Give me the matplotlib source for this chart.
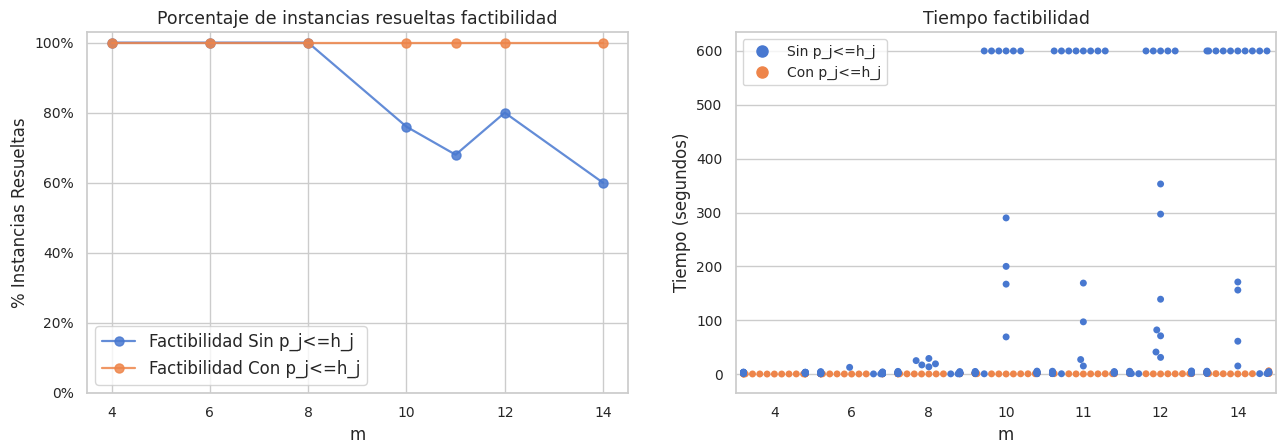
import numpy as np
import pandas as pd
import matplotlib
matplotlib.use("Agg")
import matplotlib.pyplot as plt
from matplotlib.lines import Line2D
from matplotlib.ticker import PercentFormatter
import seaborn as sns
import warnings

warnings.filterwarnings("ignore")

sns.set_theme(style="whitegrid", palette="muted")
plt.rcParams['font.family'] = ['DejaVu Sans']

# porcentaje de instancias resueltas por m
m_vals = [4, 6, 8, 10, 11, 12, 14]
pct_sin = [100, 100, 100, 76, 68, 80, 60]
pct_con = [100, 100, 100, 100, 100, 100, 100]

# tiempos (segundos) de cada instancia, 600 = timeout
t_sin_4 = [1.2, 1.3, 1.4, 1.5, 1.6, 1.7, 1.8, 1.9, 2.0, 2.1, 2.2, 2.3, 2.4,
           2.5, 2.6, 2.7, 2.8, 2.9, 3.0, 3.1, 3.2, 3.3, 3.4, 3.5, 3.6]
t_sin_6 = [0.3, 0.4, 0.5, 0.6, 0.7, 0.8, 0.9, 1.0, 1.1, 1.2, 1.4, 1.5, 1.7,
           1.9, 2.0, 2.2, 2.4, 2.6, 2.9, 3.1, 3.4, 3.8, 4.0, 4.5, 12.5]
t_sin_8 = [0.4, 0.5, 0.6, 0.8, 0.9, 1.0, 1.2, 1.3, 1.5, 1.7, 1.9, 2.1, 2.4,
           2.7, 3.0, 3.3, 3.7, 4.1, 4.6, 5.0, 13.5, 17.0, 19.0, 25.0, 29.0]
t_sin_10 = [0.5, 0.7, 0.9, 1.1, 1.3, 1.6, 1.9, 2.2, 2.6, 3.0, 3.4, 3.9, 4.4,
            4.9, 5.5, 69.0, 167.0, 200.0, 290.0,
            600, 600, 600, 600, 600, 600]
t_sin_11 = [0.6, 0.8, 1.0, 1.3, 1.6, 1.9, 2.3, 2.7, 3.1, 3.6, 4.1, 4.7, 5.3,
            15.0, 27.0, 97.0, 169.0,
            600, 600, 600, 600, 600, 600, 600, 600]
t_sin_12 = [0.7, 0.9, 1.2, 1.5, 1.8, 2.2, 2.6, 3.0, 3.5, 4.0, 4.6, 5.2, 5.8,
            31.0, 41.0, 71.0, 82.0, 139.0, 297.0, 353.0,
            600, 600, 600, 600, 600]
t_sin_14 = [0.8, 1.0, 1.3, 1.7, 2.1, 2.5, 3.0, 3.5, 4.1, 4.7, 5.4,
            15.0, 61.0, 156.0, 171.0,
            600, 600, 600, 600, 600, 600, 600, 600, 600, 600]

t_con_4 = [0.1, 0.1, 0.1, 0.2, 0.2, 0.2, 0.3, 0.3, 0.3, 0.4, 0.4, 0.4, 0.5,
           0.5, 0.5, 0.6, 0.6, 0.6, 0.7, 0.7, 0.8, 0.8, 0.9, 0.9, 1.0]
t_con_6 = [0.1, 0.2, 0.2, 0.3, 0.3, 0.3, 0.4, 0.4, 0.5, 0.5, 0.6, 0.6, 0.7,
           0.7, 0.8, 0.8, 0.9, 1.0, 1.0, 1.1, 1.2, 1.3, 1.4, 1.5, 1.7]
t_con_8 = [0.2, 0.2, 0.3, 0.3, 0.4, 0.4, 0.5, 0.5, 0.6, 0.6, 0.7, 0.8, 0.8,
           0.9, 1.0, 1.0, 1.1, 1.2, 1.3, 1.4, 1.5, 1.6, 1.8, 2.0, 2.2]
t_con_10 = [0.2, 0.3, 0.3, 0.4, 0.5, 0.5, 0.6, 0.7, 0.7, 0.8, 0.9, 1.0, 1.1,
            1.2, 1.3, 1.4, 1.5, 1.6, 1.8, 1.9, 2.1, 2.3, 2.5, 2.7, 3.0]
t_con_11 = [0.2, 0.3, 0.4, 0.4, 0.5, 0.6, 0.7, 0.8, 0.8, 0.9, 1.0, 1.1, 1.2,
            1.3, 1.5, 1.6, 1.7, 1.9, 2.0, 2.2, 2.4, 2.6, 2.9, 3.2, 3.5]
t_con_12 = [0.3, 0.4, 0.5, 0.5, 0.6, 0.7, 0.8, 0.9, 1.0, 1.1, 1.2, 1.3, 1.5,
            1.6, 1.8, 1.9, 2.1, 2.3, 2.5, 2.7, 3.0, 3.3, 3.6, 4.0, 4.4]
t_con_14 = [0.3, 0.4, 0.5, 0.6, 0.7, 0.8, 0.9, 1.0, 1.2, 1.3, 1.5, 1.6, 1.8,
            2.0, 2.2, 2.4, 2.7, 3.0, 3.3, 3.6, 4.0, 4.4, 4.8, 5.3, 6.0]

t_sin = [t_sin_4, t_sin_6, t_sin_8, t_sin_10, t_sin_11, t_sin_12, t_sin_14]
t_con = [t_con_4, t_con_6, t_con_8, t_con_10, t_con_11, t_con_12, t_con_14]

rows = []
for m, tc in zip(m_vals, t_con):
    rows += [(m, v, "Con p_j<=h_j") for v in tc]
for m, ts in zip(m_vals, t_sin):
    rows += [(m, v, "Sin p_j<=h_j") for v in ts]
df = pd.DataFrame(rows, columns=["m", "tiempo", "tipo"])

colors = sns.color_palette("muted")
azul, naranja = colors[0], colors[1]

fig, (ax1, ax2) = plt.subplots(1, 2, figsize=(12.79, 4.46), dpi=100)
fig.subplots_adjust(left=0.068, right=0.998, wspace=0.2, top=0.928, bottom=0.119)

# porcentaje resuelto
ax1.plot(m_vals, pct_sin, 'o-', color=azul, alpha=0.85, lw=1.6, markersize=6.5,
         label="Factibilidad Sin p_j<=h_j")
ax1.plot(m_vals, pct_con, 'o-', color=naranja, alpha=0.85, lw=1.6, markersize=6.5,
         label="Factibilidad Con p_j<=h_j")
ax1.set_ylim(0, 103)
ax1.set_xlim(3.5, 14.5)
ax1.set_yticks([0, 20, 40, 60, 80, 100])
ax1.yaxis.set_major_formatter(PercentFormatter(decimals=0))
ax1.set_xticks([4, 6, 8, 10, 12, 14])
ax1.tick_params(labelsize=10)
ax1.set_title("Porcentaje de instancias resueltas factibilidad", fontsize=12.5)
ax1.set_xlabel("m", fontsize=12)
ax1.set_ylabel("% Instancias Resueltas", fontsize=12)
ax1.legend(loc="lower left", fontsize=12)

# tiempos
sns.swarmplot(data=df, x="m", y="tiempo", hue="tipo", ax=ax2, size=5,
              hue_order=["Sin p_j<=h_j", "Con p_j<=h_j"],
              palette=[azul, naranja])
ax2.set_ylim(-35, 635)
ax2.tick_params(labelsize=10)
ax2.set_title("Tiempo factibilidad", fontsize=12.5)
ax2.set_xlabel("m", fontsize=12)
ax2.set_ylabel("Tiempo (segundos)", fontsize=12)
handles = [Line2D([], [], marker='o', ls='', color=azul, markersize=8),
           Line2D([], [], marker='o', ls='', color=naranja, markersize=8)]
ax2.legend(handles, ["Sin p_j<=h_j", "Con p_j<=h_j"], loc="upper left",
           fontsize=10)

plt.savefig("out.png", dpi=100)
